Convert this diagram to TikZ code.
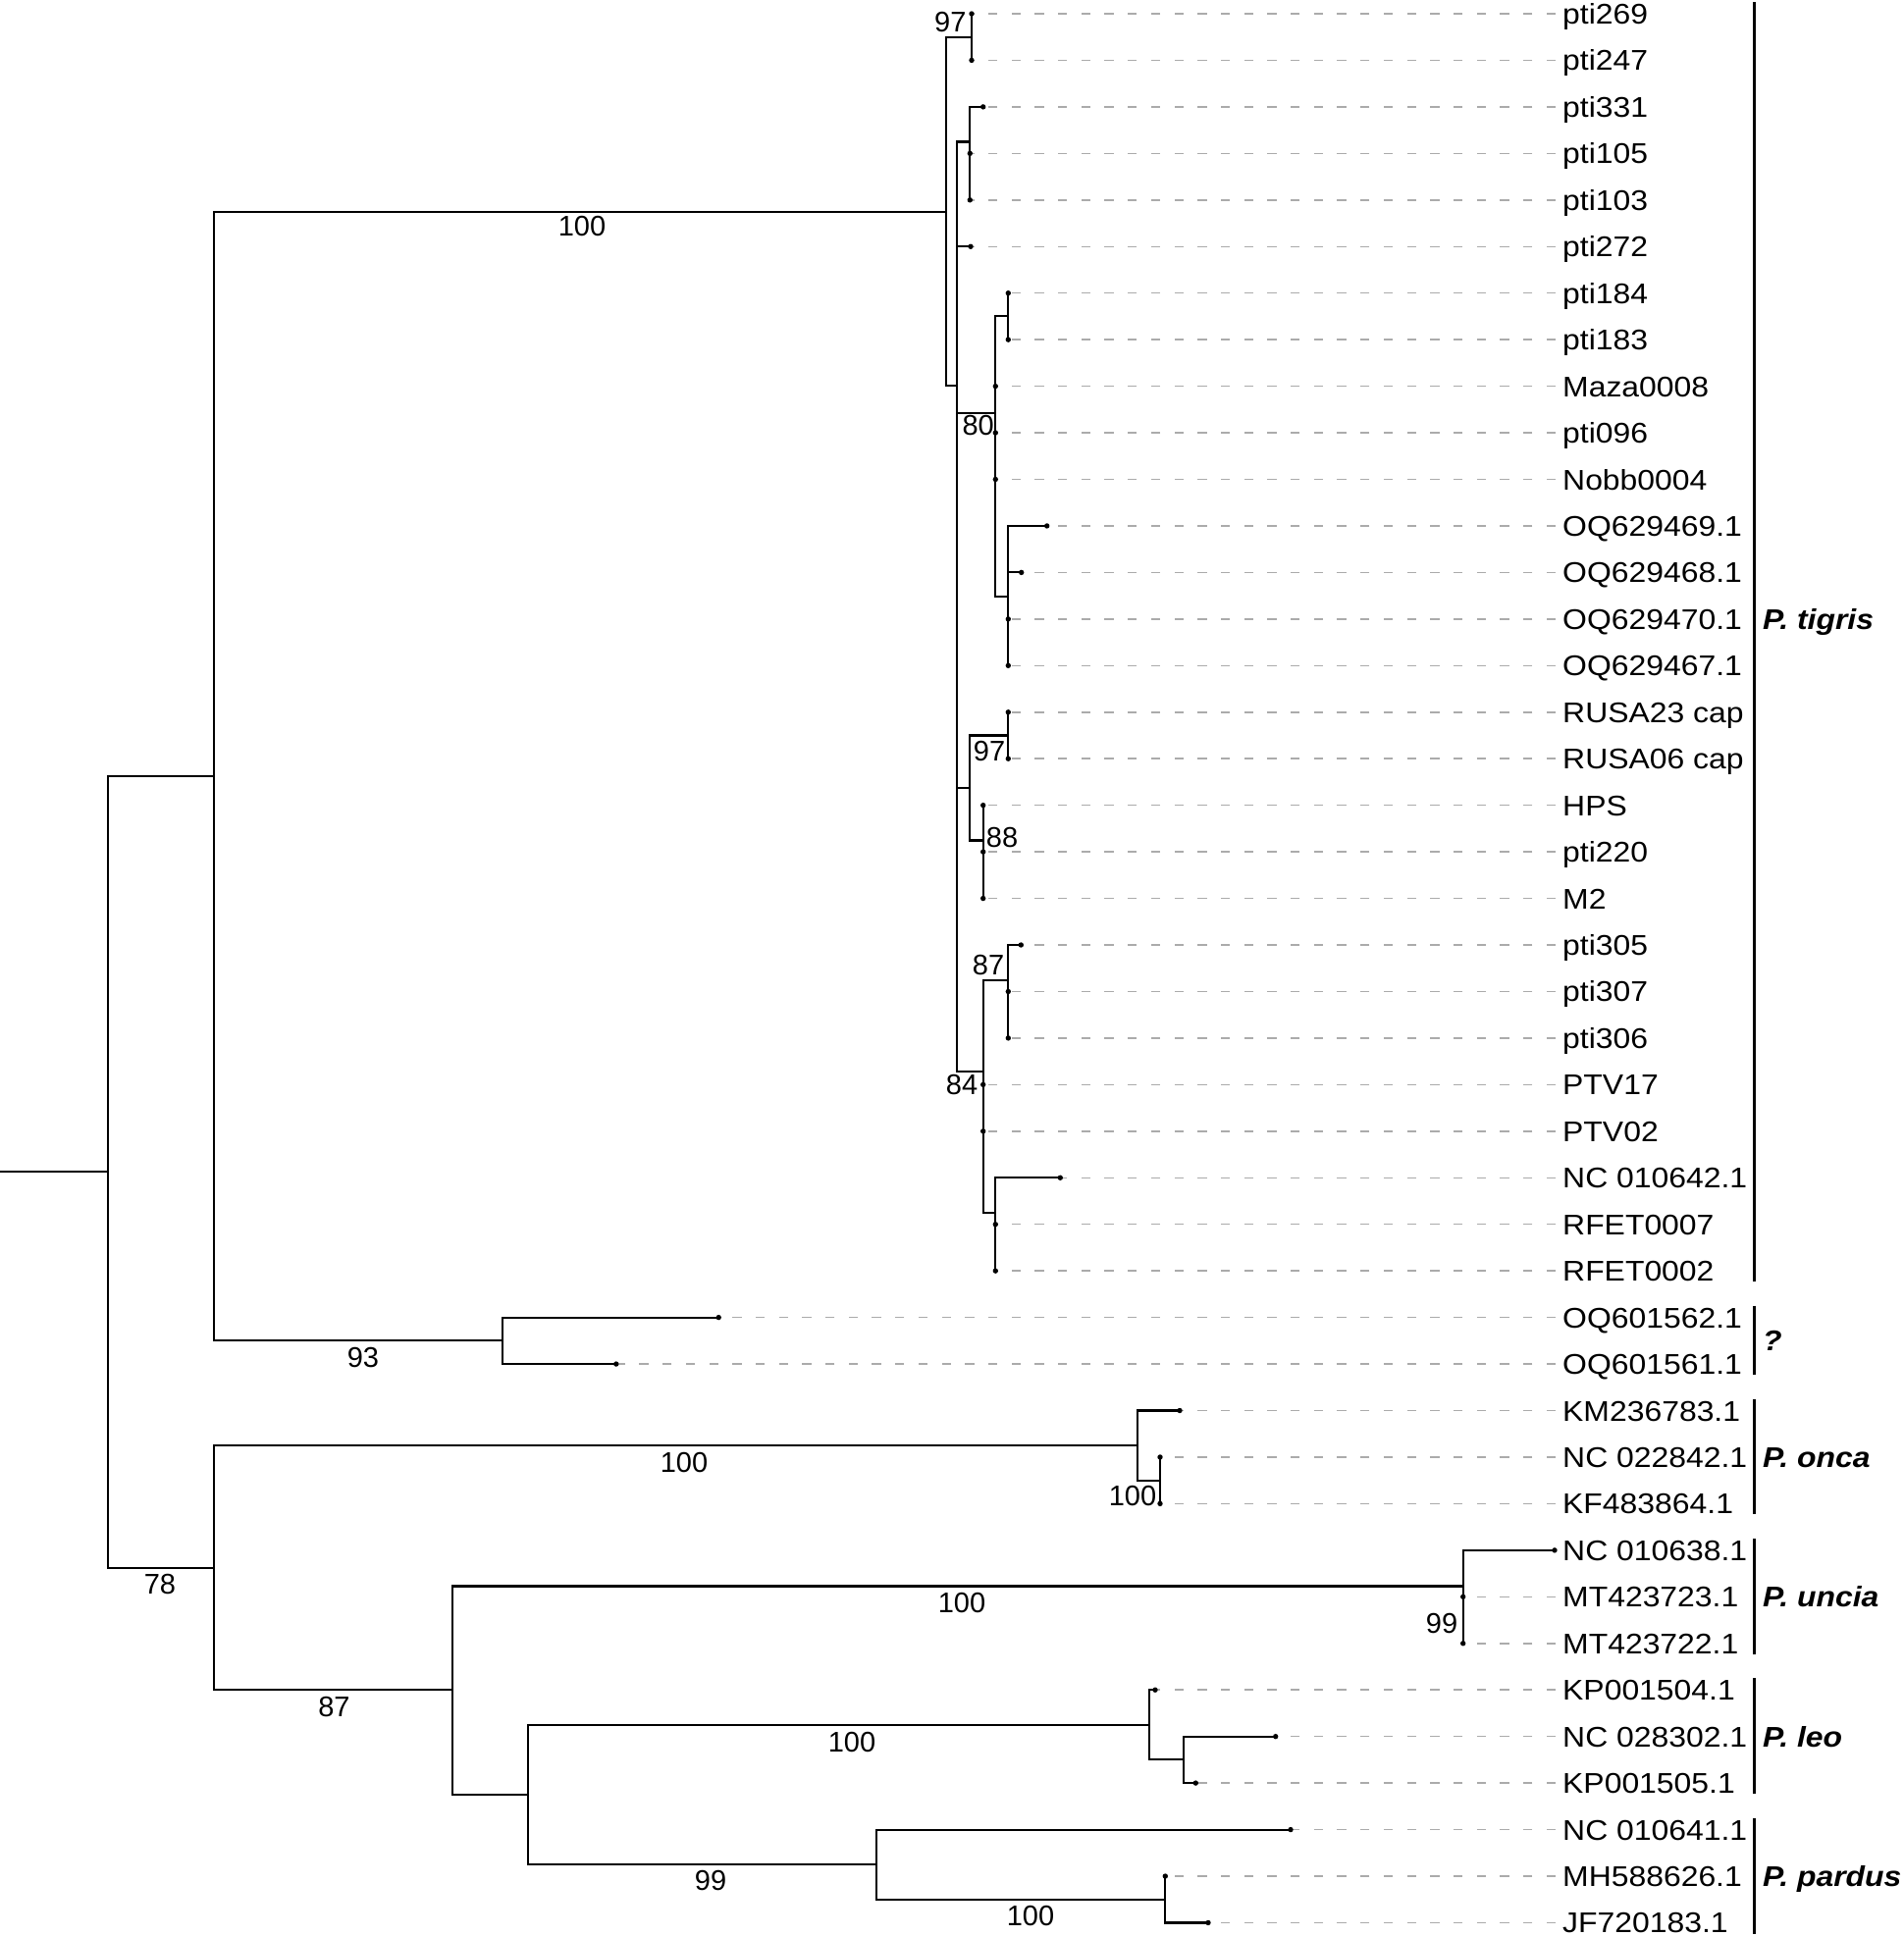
\documentclass[tikz,border=0pt]{standalone}
\usepackage{fontspec}
\setmainfont{Liberation Sans}
\newfontfamily\tipfont[FakeStretch=1.1]{Liberation Sans}
\begin{document}
\begin{tikzpicture}[x=1pt,y=-1pt,
  br/.style={line width=2.1pt, black},
  dashln/.style={line width=1.5pt, color=black!33, dash pattern=on 9.3pt off 14.4pt},
  tiplab/.style={anchor=base west, inner sep=0pt, font=\tipfont\fontsize{29}{34}\selectfont},
  bs/.style={inner sep=0pt, font=\fontsize{29}{34}\selectfont},
  sp/.style={anchor=base west, inner sep=0pt, font=\tipfont\bfseries\itshape\fontsize{29}{34}\selectfont},
  cbar/.style={line width=3pt, black},
  tipdot/.style={fill=black}]
\useasboundingbox (0,0) rectangle (1940,1973);

% tips: row / x of tip / label
\foreach \r/\tx/\lab in {
  0/990/pti269, 1/990/pti247, 2/1001.7/pti331, 3/988.3/pti105, 4/988.3/pti103,
  5/989/pti272, 6/1027.3/pti184, 7/1027.3/pti183, 8/1014.3/Maza0008, 9/1014.3/pti096,
  10/1014.3/Nobb0004, 11/1066.7/OQ629469.1, 12/1040.7/OQ629468.1, 13/1027.3/OQ629470.1,
  14/1027.3/OQ629467.1, 15/1027.3/RUSA23 cap, 16/1027.3/RUSA06 cap, 17/1001.7/HPS,
  18/1001.7/pti220, 19/1001.7/M2, 20/1040.3/pti305, 21/1027.3/pti307, 22/1027.3/pti306,
  23/1001.7/PTV17, 24/1001.7/PTV02, 25/1080.3/NC 010642.1, 26/1014.3/RFET0007,
  27/1014.3/RFET0002, 28/732.2/OQ601562.1, 29/627.8/OQ601561.1, 30/1202/KM236783.1,
  31/1182/NC 022842.1, 32/1182/KF483864.1, 33/1584/NC 010638.1, 34/1490.7/MT423723.1,
  35/1490.7/MT423722.1, 36/1177/KP001504.1, 37/1299.7/NC 028302.1, 38/1218.3/KP001505.1,
  39/1315/NC 010641.1, 40/1187.3/MH588626.1, 41/1231/JF720183.1}{
  \pgfmathsetmacro{\yy}{14+47.45*\r}
  \coordinate (t\r) at (\tx,\yy);
  \coordinate (d\r) at (1585,\yy);
  \ifdim\tx pt<1570pt
    \draw[dashln] (d\r) -- (t\r);
  \fi
  \node[tiplab] (L\r) at (1592,\yy+10.5) {\lab};
}

% internal nodes
\coordinate (rs) at (0,1194.4);
\coordinate (nRoot) at (110,1194.4);
\coordinate (nP) at (218,791);
\coordinate (nQ) at (218,1597.7);
\coordinate (nT0) at (963.7,215.6);
\coordinate (nT1) at (990,37.7);
\coordinate (nT2) at (975.3,393.3);
\coordinate (nC) at (988.3,144.5);
\coordinate (n80) at (1014.3,420.7);
\coordinate (n184) at (1027.3,322.4);
\coordinate (nOQ) at (1027.3,607.7);
\coordinate (nX) at (988.3,803.3);
\coordinate (nRUSA) at (1027.3,749.5);
\coordinate (n88) at (1001.7,856.5);
\coordinate (n84) at (1001.7,1091.7);
\coordinate (n87) at (1027.3,998.6);
\coordinate (nNC) at (1014.3,1235.8);
\coordinate (nOQ601) at (511.7,1366.3);
\coordinate (nOnca) at (1158.7,1473.1);
\coordinate (nOnca2) at (1182,1508.7);
\coordinate (nR) at (461.3,1722.2);
\coordinate (nUncia) at (1490.7,1616.5);
\coordinate (nUncia2) at (1490.7,1651);
\coordinate (nS) at (537.8,1829);
\coordinate (nLeo) at (1171,1757.8);
\coordinate (nLeo2) at (1205.7,1793.4);
\coordinate (nPardus) at (893.3,1900.1);
\coordinate (nPardus2) at (1187.3,1935.7);

% branches
\draw[br] (rs) -- (nRoot);
\draw[br] (nRoot) |- (nP);
\draw[br] (nRoot) |- (nQ);
\draw[br] (nP) |- (nT0);
\draw[br] (nP) |- (nOQ601);
\draw[br] (nT0) |- (nT1);
\draw[br] (nT0) |- (nT2);
\draw[br] (nT1) |- (t0);
\draw[br] (nT1) |- (t1);
\draw[br] (nT2) |- (nC);
\draw[br] (nT2) |- (t5);
\draw[br] (nT2) |- (n80);
\draw[br] (nT2) |- (nX);
\draw[br] (nT2) |- (n84);
\foreach \c in {2,3,4}{\draw[br] (nC) |- (t\c);}
\draw[br] (n80) |- (n184);
\draw[br] (n80) |- (nOQ);
\foreach \c in {8,9,10}{\draw[br] (n80) |- (t\c);}
\foreach \c in {6,7}{\draw[br] (n184) |- (t\c);}
\foreach \c in {11,12,13,14}{\draw[br] (nOQ) |- (t\c);}
\draw[br] (nX) |- (nRUSA);
\draw[br] (nX) |- (n88);
\foreach \c in {15,16}{\draw[br] (nRUSA) |- (t\c);}
\foreach \c in {17,18,19}{\draw[br] (n88) |- (t\c);}
\draw[br] (n84) |- (n87);
\draw[br] (n84) |- (nNC);
\foreach \c in {23,24}{\draw[br] (n84) |- (t\c);}
\foreach \c in {20,21,22}{\draw[br] (n87) |- (t\c);}
\foreach \c in {25,26,27}{\draw[br] (nNC) |- (t\c);}
\foreach \c in {28,29}{\draw[br] (nOQ601) |- (t\c);}
\draw[br] (nQ) |- (nOnca);
\draw[br] (nQ) |- (nR);
\draw[br] (nOnca) |- (t30);
\draw[br] (nOnca) |- (nOnca2);
\foreach \c in {31,32}{\draw[br] (nOnca2) |- (t\c);}
\draw[br] (nR) |- (nUncia);
\draw[br] (nR) |- (nS);
\draw[br] (nUncia) |- (t33);
\draw[br] (nUncia) |- (nUncia2);
\foreach \c in {34,35}{\draw[br] (nUncia2) |- (t\c);}
\draw[br] (nS) |- (nLeo);
\draw[br] (nS) |- (nPardus);
\draw[br] (nLeo) |- (t36);
\draw[br] (nLeo) |- (nLeo2);
\foreach \c in {37,38}{\draw[br] (nLeo2) |- (t\c);}
\draw[br] (nPardus) |- (t39);
\draw[br] (nPardus) |- (nPardus2);
\foreach \c in {40,41}{\draw[br] (nPardus2) |- (t\c);}

% tip dots
\foreach \c in {0,...,41}{\fill[tipdot] (t\c) circle[radius=2.7pt];}

% support values
\node[bs] (b1) at (593,231) {100};
\node[bs] (b2) at (370,1383) {93};
\node[bs] (b3) at (163,1614.5) {78};
\node[bs] (b4) at (697,1490) {100};
\node[bs] (b5) at (340.5,1739.5) {87};
\node[bs] (b6) at (980,1633) {100};
\node[bs] (b7) at (868,1775) {100};
\node[bs] (b8) at (724,1916.5) {99};
\node[bs] (b9) at (1050,1952) {100};
\node[bs] (b10) at (968.3,23) {97};
\node[bs] (b11) at (996.7,434) {80};
\node[bs] (b12) at (1008,766) {97};
\node[bs] (b13) at (1021,853.7) {88};
\node[bs] (b14) at (1007,984) {87};
\node[bs] (b15) at (980,1106) {84};
\node[bs] (b16) at (1154,1524) {100};
\node[bs] (b17) at (1469,1654) {99};

% clade bars and names
\coordinate (g1a) at (1787,2);    \coordinate (g1b) at (1787,1306);
\coordinate (g2a) at (1787,1330.6); \coordinate (g2b) at (1787,1401);
\coordinate (g3a) at (1787,1425.5); \coordinate (g3b) at (1787,1543.4);
\coordinate (g4a) at (1787,1568);   \coordinate (g4b) at (1787,1686);
\coordinate (g5a) at (1787,1710);   \coordinate (g5b) at (1787,1828);
\coordinate (g6a) at (1787,1852.5); \coordinate (g6b) at (1787,1970.5);
\foreach \g in {1,...,6}{\draw[cbar] (g\g a) -- (g\g b);}
\node[sp] (s1) at (1796,{14+47.45*13+10.5}) {P. tigris};
\node[sp] (s2) at (1796,{14+47.45*28.5+10.5}) {?};
\node[sp] (s3) at (1796,{14+47.45*31+10.5}) {P. onca};
\node[sp] (s4) at (1796,{14+47.45*34+10.5}) {P. uncia};
\node[sp] (s5) at (1796,{14+47.45*37+10.5}) {P. leo};
\node[sp] (s6) at (1796,{14+47.45*40+10.5}) {P. pardus};
\end{tikzpicture}
\end{document}
